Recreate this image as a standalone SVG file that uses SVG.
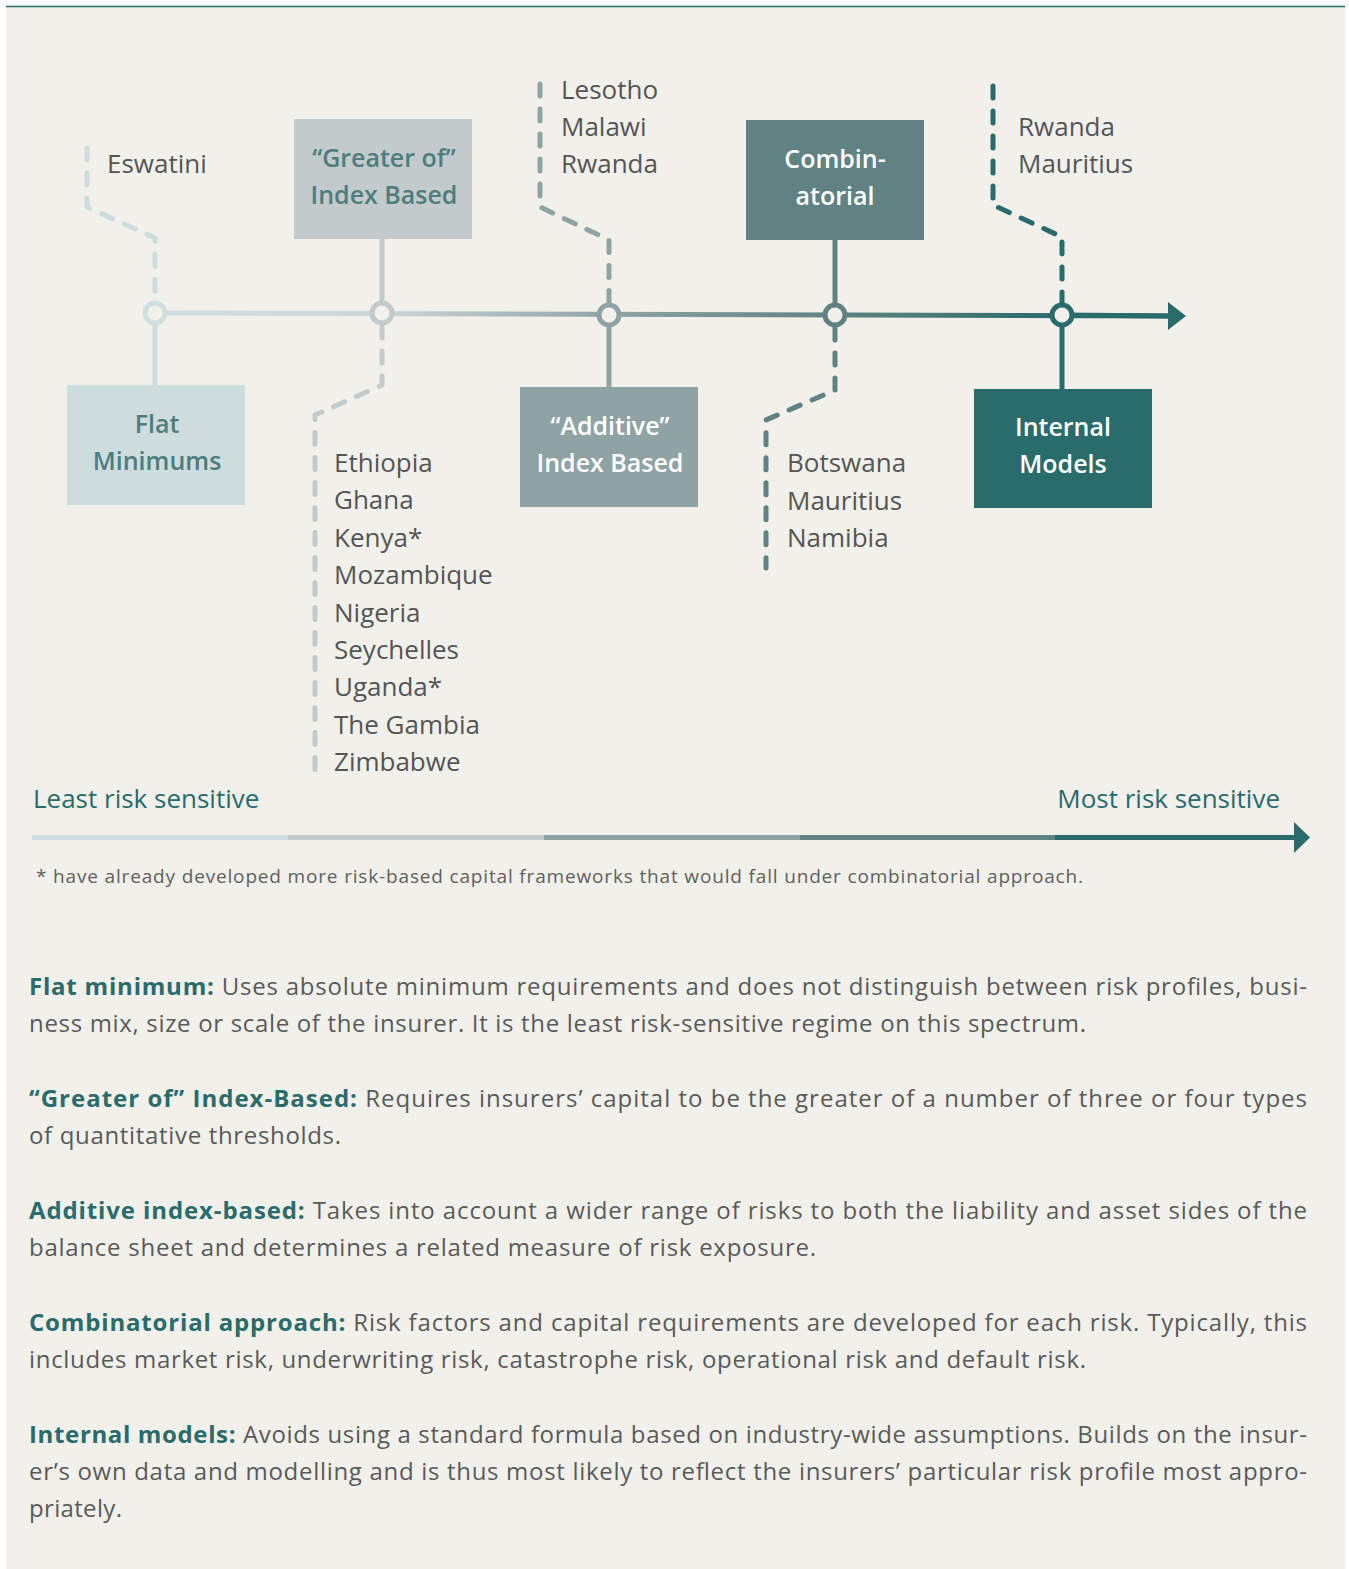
<svg xmlns="http://www.w3.org/2000/svg" width="1349" height="1569" viewBox="0 0 1349 1569">
<defs>
<style>
.lbl{font-family:"Open Sans","Noto Sans",sans-serif;font-size:26px;fill:#555555}
.box{font-family:"Open Sans","Noto Sans",sans-serif;font-size:25px;font-weight:600;text-anchor:middle}
.dash{fill:none;stroke-width:5;stroke-dasharray:12 13;stroke-linecap:round;stroke-linejoin:round}
.solid{fill:none;stroke-width:5}
.body{font-family:"Open Sans","Noto Sans",sans-serif;font-size:24px;fill:#5a5a5a}
.b{font-weight:bold;fill:#2a6b6c}
.end{font-family:"Open Sans","Noto Sans",sans-serif;font-size:26px;fill:#2a6b6c}
.foot{font-family:"Open Sans","Noto Sans",sans-serif;font-size:19px;fill:#606060}
</style>
<linearGradient id="g" gradientUnits="userSpaceOnUse" x1="155" y1="0" x2="1062" y2="0">
<stop offset="0" stop-color="#cfdfe0"/>
<stop offset="0.25" stop-color="#cbd6d8"/>
<stop offset="0.5" stop-color="#8fa3a5"/>
<stop offset="0.75" stop-color="#608283"/>
<stop offset="1" stop-color="#2a6b6c"/>
</linearGradient>
</defs>
<rect x="0" y="0" width="1349" height="1569" fill="#ffffff"/>
<rect x="6" y="6" width="1339" height="1563" fill="#f1f0ea"/>
<line x1="6" y1="6.5" x2="1345" y2="6.5" stroke="#2a6b6c" stroke-width="1.5"/>

<g id="connectors">
<line x1="155" y1="313" x2="1170" y2="316" stroke="url(#g)" stroke-width="5"/>
<line x1="1062" y1="315" x2="1172" y2="316" stroke="#2a6b6c" stroke-width="5"/>
<polygon points="1168,302 1186,316 1168,330" fill="#2a6b6c"/>
<path class="dash" stroke="#cddcdd" d="M87,148 V207 L155,238 V300"/>
<line class="solid" stroke="#cddcdd" x1="155" y1="324" x2="155" y2="386"/>
<line class="solid" stroke="#c2cacb" x1="382" y1="239" x2="382" y2="302"/>
<path class="dash" stroke="#c2cacb" d="M382,326 V385 L315,415 V780"/>
<path class="dash" stroke="#8fa3a5" d="M540,84 V207 L609,240 V302"/>
<line class="solid" stroke="#8fa3a5" x1="609" y1="326" x2="609" y2="388"/>
<line class="solid" stroke="#608283" x1="835" y1="240" x2="835" y2="304"/>
<path class="dash" stroke="#608283" d="M835,328 V390 L766,420 V568"/>
<path class="dash" stroke="#2a6b6c" d="M993,86 V205 L1062,237 V302"/>
<line class="solid" stroke="#2a6b6c" x1="1062" y1="326" x2="1062" y2="390"/>
<circle cx="155" cy="313" r="10" fill="#f1f0ea" stroke="#cfdfe0" stroke-width="5"/>
<circle cx="382" cy="313" r="10" fill="#f1f0ea" stroke="#c2cacb" stroke-width="5"/>
<circle cx="609" cy="315" r="10" fill="#f1f0ea" stroke="#8fa3a5" stroke-width="5"/>
<circle cx="835" cy="315" r="10" fill="#f1f0ea" stroke="#608283" stroke-width="5"/>
<circle cx="1062" cy="315" r="10" fill="#f1f0ea" stroke="#2a6b6c" stroke-width="5"/>
</g>

<g id="flat">
<rect x="67" y="385" width="178" height="120" fill="#cddcdd"/>
<text class="box" fill="#4f7c7d" x="157" y="433">Flat</text>
<text class="box" fill="#4f7c7d" x="157" y="470">Minimums</text>
</g>
<g id="greater">
<rect x="294" y="119" width="178" height="120" fill="#c2cacb"/>
<text class="box" fill="#4f7c7d" x="384" y="167">“Greater of”</text>
<text class="box" fill="#4f7c7d" x="384" y="204">Index Based</text>
</g>
<g id="additive">
<rect x="520" y="387" width="178" height="120" fill="#8fa3a5"/>
<text class="box" fill="#ffffff" x="610" y="435">“Additive”</text>
<text class="box" fill="#ffffff" x="610" y="472">Index Based</text>
</g>
<g id="combinatorial">
<rect x="746" y="120" width="178" height="120" fill="#608283"/>
<text class="box" fill="#ffffff" x="835" y="168">Combin-</text>
<text class="box" fill="#ffffff" x="835" y="205">atorial</text>
</g>
<g id="internal">
<rect x="974" y="389" width="178" height="119" fill="#2a6b6c"/>
<text class="box" fill="#ffffff" x="1063" y="436">Internal</text>
<text class="box" fill="#ffffff" x="1063" y="473">Models</text>
</g>

<g id="countries-flat"><text class="lbl" x="107" y="173">Eswatini</text></g>
<g id="countries-greater">
<text class="lbl" x="334" y="472">Ethiopia</text>
<text class="lbl" x="334" y="509">Ghana</text>
<text class="lbl" x="334" y="547">Kenya*</text>
<text class="lbl" x="334" y="584">Mozambique</text>
<text class="lbl" x="334" y="622">Nigeria</text>
<text class="lbl" x="334" y="659">Seychelles</text>
<text class="lbl" x="334" y="696">Uganda*</text>
<text class="lbl" x="334" y="734">The Gambia</text>
<text class="lbl" x="334" y="771">Zimbabwe</text>
</g>
<g id="countries-additive">
<text class="lbl" x="561" y="99">Lesotho</text>
<text class="lbl" x="561" y="136">Malawi</text>
<text class="lbl" x="561" y="173">Rwanda</text>
</g>
<g id="countries-combinatorial">
<text class="lbl" x="787" y="472">Botswana</text>
<text class="lbl" x="787" y="510">Mauritius</text>
<text class="lbl" x="787" y="547">Namibia</text>
</g>
<g id="countries-internal">
<text class="lbl" x="1018" y="136">Rwanda</text>
<text class="lbl" x="1018" y="173">Mauritius</text>
</g>

<g id="scale">
<text class="end" x="33" y="808">Least risk sensitive</text>
<text class="end" x="1280" y="808" text-anchor="end">Most risk sensitive</text>
<rect x="32" y="835" width="256" height="5" fill="#cddcdd"/>
<rect x="288" y="835" width="256" height="5" fill="#c2cacb"/>
<rect x="544" y="835" width="256" height="5" fill="#8fa3a5"/>
<rect x="800" y="835" width="255" height="5" fill="#608283"/>
<rect x="1055" y="835" width="242" height="5" fill="#2a6b6c"/>
<polygon points="1294,822 1310,837.5 1294,853" fill="#2a6b6c"/>
</g>

<text class="foot" x="36" y="883" textLength="1047" lengthAdjust="spacing">* have already developed more risk-based capital frameworks that would fall under combinatorial approach.</text>

<g id="definitions">
<text class="body" x="29" y="995" textLength="1278" lengthAdjust="spacing"><tspan class="b">Flat minimum:</tspan> Uses absolute minimum requirements and does not distinguish between risk profiles, busi-</text>
<text class="body" x="29" y="1032" textLength="1057" lengthAdjust="spacing">ness mix, size or scale of the insurer. It is the least risk-sensitive regime on this spectrum.</text>
<text class="body" x="29" y="1107" textLength="1278" lengthAdjust="spacing"><tspan class="b">“Greater of” Index-Based:</tspan> Requires insurers’ capital to be the greater of a number of three or four types</text>
<text class="body" x="29" y="1144" textLength="312" lengthAdjust="spacing">of quantitative thresholds.</text>
<text class="body" x="29" y="1219" textLength="1278" lengthAdjust="spacing"><tspan class="b">Additive index-based:</tspan> Takes into account a wider range of risks to both the liability and asset sides of the</text>
<text class="body" x="29" y="1256" textLength="787" lengthAdjust="spacing">balance sheet and determines a related measure of risk exposure.</text>
<text class="body" x="29" y="1331" textLength="1278" lengthAdjust="spacing"><tspan class="b">Combinatorial approach:</tspan> Risk factors and capital requirements are developed for each risk. Typically, this</text>
<text class="body" x="29" y="1368" textLength="1057" lengthAdjust="spacing">includes market risk, underwriting risk, catastrophe risk, operational risk and default risk.</text>
<text class="body" x="29" y="1443" textLength="1278" lengthAdjust="spacing"><tspan class="b">Internal models:</tspan> Avoids using a standard formula based on industry-wide assumptions. Builds on the insur-</text>
<text class="body" x="29" y="1480" textLength="1278" lengthAdjust="spacing">er’s own data and modelling and is thus most likely to reflect the insurers’ particular risk profile most appro-</text>
<text class="body" x="29" y="1517" textLength="93" lengthAdjust="spacing">priately.</text>
</g>
</svg>
